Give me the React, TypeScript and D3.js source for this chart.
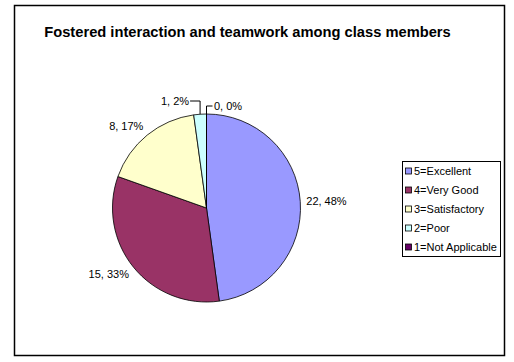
import React from "react";
import * as d3 from "d3";

const title = "Fostered interaction and teamwork among class members";
const categories = ["5=Excellent", "4=Very Good", "3=Satisfactory", "2=Poor", "1=Not Applicable"];
const values = [22, 15, 8, 1, 0];
const percents = ["48%", "33%", "17%", "2%", "0%"];
const colors = ["#9999FF", "#993366", "#FFFFCC", "#CCFFFF", "#660066"];

const W = 514;
const H = 362;
const cx = 206.5;
const cy = 208;
const R = 94;
const FONT = "'Liberation Sans', Arial, sans-serif";

export default function App() {
  const pie = d3
    .pie<number>()
    .sort(null)
    .value((d) => d)
    .startAngle(0)
    .endAngle(2 * Math.PI);
  const arcs = pie(values);
  const arc = d3.arc<d3.PieArcDatum<number>>().innerRadius(0).outerRadius(R);

  const labels = arcs.map((a, i) => {
    const mid = (a.startAngle + a.endAngle) / 2;
    const s = Math.sin(mid);
    const c = Math.cos(mid);
    const text = `${values[i]}, ${percents[i]}`;
    const share = (a.endAngle - a.startAngle) / (2 * Math.PI);
    if (share < 0.05) {
      // small slices: leader lines
      const ex = cx + R * s;
      const ey = cy - R * c;
      const left = s < -1e-6;
      const ty = left ? cy - R - 13 : cy - R - 8;
      const hx = left ? ex - 10 : ex + 6;
      return (
        <g key={i}>
          <polyline
            points={`${ex},${ey} ${ex},${ty} ${hx},${ty}`}
            fill="none"
            stroke="#000"
            strokeWidth={1}
          />
          <text
            x={left ? hx - 1 : hx + 1.5}
            y={ty}
            dy="0.35em"
            textAnchor={left ? "end" : "start"}
            fontFamily={FONT}
            fontSize={11}
            fill="#000"
          >
            {text}
          </text>
        </g>
      );
    }
    const d = 6;
    const px = cx + (R + d) * s;
    const py = cy - (R + d) * c;
    return (
      <text
        key={i}
        x={px}
        y={py - c * 5}
        dy="0.35em"
        textAnchor={s >= 0 ? "start" : "end"}
        fontFamily={FONT}
        fontSize={11}
        fill="#000"
      >
        {text}
      </text>
    );
  });

  const legendX = 402;
  const legendY = 161;
  const rowY = d3.scalePoint<string>().domain(categories).range([171, 247]);

  return (
    <svg
      width={W}
      height={H}
      style={{ position: "absolute", left: 0, top: 0, background: "#fff" }}
    >
      <rect x={0} y={0} width={W} height={H} fill="#fff" />
      <rect x={14.5} y={5.5} width={490} height={350} fill="none" stroke="#000" strokeWidth={1.5} />
      <text
        x={247.5}
        y={32}
        dy="0.35em"
        textAnchor="middle"
        fontFamily={FONT}
        fontWeight="bold"
        fontSize={14.7}
        fill="#000"
      >
        {title}
      </text>
      <g transform={`translate(${cx},${cy})`}>
        {arcs.map((a, i) => (
          <path key={i} d={arc(a) || ""} fill={colors[i]} stroke="#000" strokeWidth={0.8} />
        ))}
      </g>
      {labels}
      <rect
        x={legendX + 0.5}
        y={legendY + 0.5}
        width={98}
        height={95}
        fill="#fff"
        stroke="#000"
        strokeWidth={1}
      />
      {categories.map((cat, i) => (
        <g key={cat}>
          <rect
            x={405.5}
            y={(rowY(cat) as number) - 3}
            width={6}
            height={6}
            fill={colors[i]}
            stroke="#000"
            strokeWidth={0.8}
          />
          <text
            x={414}
            y={rowY(cat) as number}
            dy="0.35em"
            fontFamily={FONT}
            fontSize={11}
            fill="#000"
          >
            {cat}
          </text>
        </g>
      ))}
    </svg>
  );
}
